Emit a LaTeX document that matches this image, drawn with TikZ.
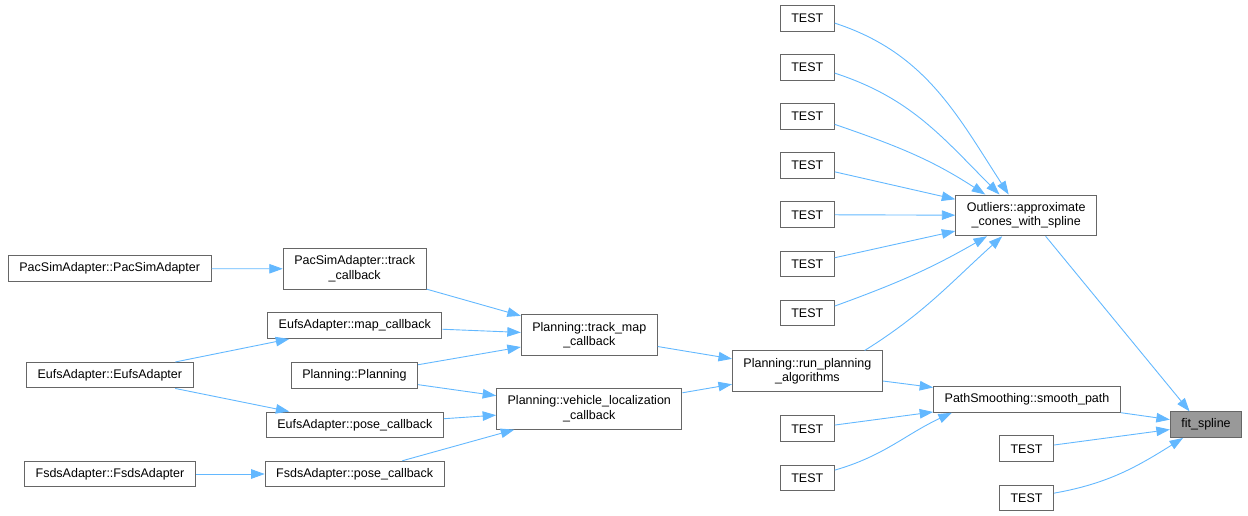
\documentclass[tikz,border=0pt]{standalone}
\usepackage{fontspec}
\setmainfont{Liberation Sans}
\usetikzlibrary{arrows.meta}
\definecolor{edgeblue}{HTML}{63B8FF}
\definecolor{boxgray}{HTML}{666666}
\definecolor{hlgray}{HTML}{999999}

\begin{document}
\begin{tikzpicture}[x=1pt,y=1pt,font=\fontsize{12.5}{14.3}\selectfont,
  box/.style={draw=boxgray,line width=1pt,fill=white,align=center,inner xsep=11pt,inner ysep=2pt,minimum height=25.5pt},
  dbox/.style={box,minimum height=40.7pt},
  hl/.style={box,fill=hlgray},
  e/.style={-{Triangle[length=13.5pt,width=9.5pt]},draw=edgeblue,line width=0.9pt}]

  \useasboundingbox (0,0) rectangle (1248,-516);

  % left columns: adapters and their callbacks
  \node[box] (pacsim) at (109.7,-268.7) {PacSimAdapter::PacSimAdapter};
  \node[box] (eufs) at (109.8,-375.2) {EufsAdapter::EufsAdapter};
  \node[box] (fsds) at (110,-474) {FsdsAdapter::FsdsAdapter};
  \node[dbox] (pactrack) at (354.7,-268.8) {PacSimAdapter::track\\\_callback};
  \node[box] (eufsmap) at (354.8,-325.7) {EufsAdapter::map\_callback};
  \node[box] (planctor) at (354.5,-375.7) {Planning::Planning};
  \node[box] (eufspose) at (354.8,-424.8) {EufsAdapter::pose\_callback};
  \node[box] (fsdspose) at (354.7,-474) {FsdsAdapter::pose\_callback};

  % planning node callbacks
  \node[dbox] (trackmap) at (589.3,-335.2) {Planning::track\_map\\\_callback};
  \node[dbox] (vehloc) at (589.3,-408.8) {Planning::vehicle\_localization\\\_callback};
  \node[dbox] (runplan) at (807.4,-371.3) {Planning::run\_planning\\\_algorithms};

  % test cases (x = 807.3)
  \foreach \i/\y in {1/18.3,2/67.3,3/116.5,4/165.6,5/214.7,6/263.8,7/312.9}
    \node[box] (to\i) at (807.3,-\y) {TEST};
  \node[box] (tp1) at (807.3,-428.7) {TEST};
  \node[box] (tp2) at (807.3,-478) {TEST};
  \node[box] (tf1) at (1026.5,-448.7) {TEST};
  \node[box] (tf2) at (1026.5,-498) {TEST};

  % callees
  \node[dbox] (outl) at (1026.2,-215.4) {Outliers::approximate\\\_cones\_with\_spline};
  \node[box] (path) at (1027,-399.5) {PathSmoothing::smooth\_path};
  \node[hl] (fit) at (1206,-424.7) {fit\_spline};

  % ---- edges ----
  \draw[e] (pacsim) -- (pactrack);
  \draw[e] (eufs) -- (eufsmap);
  \draw[e] (eufs) -- (eufspose);
  \draw[e] (fsds) -- (fsdspose);
  \draw[e] (pactrack) -- (trackmap);
  \draw[e] (eufsmap) -- (trackmap);
  \draw[e] (planctor) -- (trackmap);
  \draw[e] (planctor) -- (vehloc);
  \draw[e] (eufspose) -- (vehloc);
  \draw[e] (fsdspose) -- (vehloc);
  \draw[e] (trackmap) -- (runplan);
  \draw[e] (vehloc) -- (runplan);
  \draw[e] (runplan) -- (path);
  \draw[e] (tp1) -- (path);
  \draw[e] (tp2.16) to[out=16,in=205] (path.190);
  \draw[e] (runplan.20) to[out=32,in=222] (outl.221);
  \draw[e] (to1.-10) to[out=-18,in=123] (outl.130);
  \draw[e] (to2.-12) to[out=-18,in=135] (outl.142);
  \draw[e] (to3.-16) to[out=-19,in=147] (outl.153);
  \foreach \i in {4,5,6}
    \draw[e] (to\i) -- (outl);
  \draw[e] (to7.14) to[out=20,in=210] (outl.208);
  \draw[e] (outl.-47) -- (fit.141);
  \draw[e] (path) -- (fit);
  \draw[e] (tf1) -- (fit);
  \draw[e] (tf2.10) to[out=10,in=212] (fit.210);
\end{tikzpicture}
\end{document}
